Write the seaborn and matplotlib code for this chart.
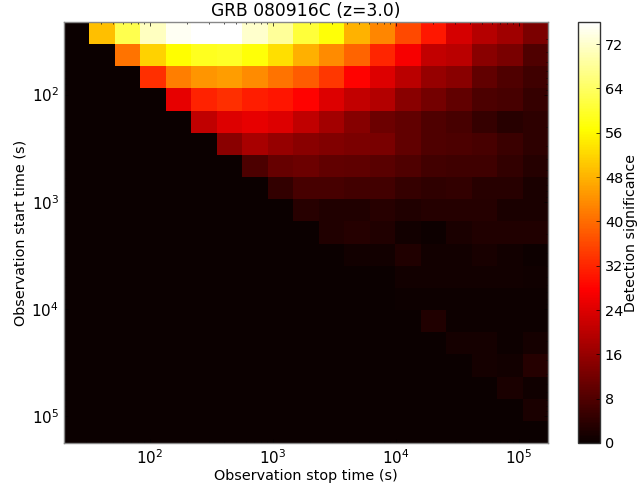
import numpy as np
import matplotlib
matplotlib.use('Agg')
import matplotlib.pyplot as plt
import seaborn as sns

# Detection significance, one list per start time bin (top to bottom)
row_00 = [0, 49.5, 62.5, 71, 75, 76, 76, 72, 68, 61, 57, 48, 43, 36, 30.5, 23, 19.5, 17, 13]
row_01 = [0, 0, 40.7, 51.5, 56.7, 59, 59.5, 57, 53, 47.5, 43.5, 39, 32, 27, 21, 20, 14.5, 12.5, 8]
row_02 = [0, 0, 0, 33, 42, 44.7, 45.5, 43.5, 40.7, 38, 34, 28, 24, 20, 16, 14.5, 10, 8, 6]
row_03 = [0, 0, 0, 0, 25, 31.5, 33, 31, 30, 28, 24, 21, 19, 14.5, 12, 10, 7.5, 7, 5]
row_04 = [0, 0, 0, 0, 0, 20.5, 24, 25, 24, 20.5, 17.5, 14, 11, 10, 8, 7, 5, 3.5, 4]
row_05 = [0, 0, 0, 0, 0, 0, 14.5, 18, 16, 14.5, 13.5, 13, 12.5, 10, 8, 7.5, 7, 5.5, 4]
row_06 = [0, 0, 0, 0, 0, 0, 0, 7.5, 10.5, 11, 10, 9.5, 9, 8, 6.5, 6, 6, 4.5, 3]
row_07 = [0, 0, 0, 0, 0, 0, 0, 0, 4.5, 7, 7, 6.5, 6.5, 5, 4.3, 4.5, 3.5, 3.5, 2]
row_08 = [0, 0, 0, 0, 0, 0, 0, 0, 0, 3.5, 2.5, 2.5, 3.5, 2.5, 3, 3, 3, 2, 2]
row_09 = [0, 0, 0, 0, 0, 0, 0, 0, 0, 0, 2.5, 3, 2.5, 1, 0.3, 2, 2.5, 2.5, 2.5]
row_10 = [0, 0, 0, 0, 0, 0, 0, 0, 0, 0, 0, 1, 1, 2.5, 1, 1, 1.5, 1, 0.4]
row_11 = [0, 0, 0, 0, 0, 0, 0, 0, 0, 0, 0, 0, 0, 1, 1, 1, 1, 1, 0.8]
row_12 = [0, 0, 0, 0, 0, 0, 0, 0, 0, 0, 0, 0, 0, 0.3, 0.3, 0.3, 0.3, 0.3, 0.3]
row_13 = [0, 0, 0, 0, 0, 0, 0, 0, 0, 0, 0, 0, 0, 0, 2.5, 0.4, 0.4, 0.4, 0.4]
row_14 = [0, 0, 0, 0, 0, 0, 0, 0, 0, 0, 0, 0, 0, 0, 0, 1.2, 1.2, 0.3, 1.2]
row_15 = [0, 0, 0, 0, 0, 0, 0, 0, 0, 0, 0, 0, 0, 0, 0, 0, 1.2, 1, 3]
row_16 = [0, 0, 0, 0, 0, 0, 0, 0, 0, 0, 0, 0, 0, 0, 0, 0, 0, 2, 0.6]
row_17 = [0, 0, 0, 0, 0, 0, 0, 0, 0, 0, 0, 0, 0, 0, 0, 0, 0, 0, 2]
row_18 = [0] * 19

# axis ranges in seconds
stop_range = [20, 172000]
start_range = [21, 178000]
decades = [2, 3, 4, 5]
tick_labels = ['$10^{2}$', '$10^{3}$', '$10^{4}$', '$10^{5}$']
cbar_ticks = [0, 8, 16, 24, 32, 40, 48, 56, 64, 72]

grid = np.array([row_00, row_01, row_02, row_03, row_04, row_05, row_06,
                 row_07, row_08, row_09, row_10, row_11, row_12, row_13,
                 row_14, row_15, row_16, row_17, row_18])


def to_cell(t, rng, n=19):
    # seconds -> heatmap cell coordinate, bins are log spaced
    lo, hi = np.log10(rng[0]), np.log10(rng[1])
    return (np.log10(t) - lo) / (hi - lo) * n


def minor_ticks(rng):
    vals = []
    for d in range(1, 6):
        for m in range(2, 10):
            t = m * 10.0 ** d
            if rng[0] <= t <= rng[1]:
                vals.append(t)
    return np.array(vals)


W, H = 638, 492
fig = plt.figure(figsize=(W / 100, H / 100), dpi=100)
ax = fig.add_axes([64 / W, 1 - 443 / H, 484 / W, 421 / H])
cax = fig.add_axes([578 / W, 1 - 443 / H, 22 / W, 421 / H])

sns.heatmap(grid, ax=ax, cbar_ax=cax, cmap='hot', vmin=0, vmax=76,
            xticklabels=False, yticklabels=False)

major = 10.0 ** np.array(decades)
ax.set_xticks(to_cell(major, stop_range))
ax.set_xticklabels(tick_labels, fontsize=11)
ax.set_yticks(to_cell(major, start_range))
ax.set_yticklabels(tick_labels, fontsize=11, rotation=0)
ax.set_xticks(to_cell(minor_ticks(stop_range), stop_range), minor=True)
ax.set_yticks(to_cell(minor_ticks(start_range), start_range), minor=True)

ax.tick_params(which='major', direction='in', length=3, width=0.5,
               top=True, right=True, color='black', pad=3.5)
ax.tick_params(which='minor', direction='in', length=1.5, width=0.5,
               top=True, right=True, color='black')
for s in ax.spines.values():
    s.set_visible(True)
    s.set_linewidth(1)
    s.set_color('#888888')

ax.set_title('GRB 080916C (z=3.0)', fontsize=12.3, pad=4)
ax.set_xlabel('Observation stop time (s)', fontsize=10.4, labelpad=2)
ax.set_ylabel('Observation start time (s)', fontsize=10.4, labelpad=3)

cb = ax.collections[0].colorbar
cb.set_ticks(cbar_ticks)
cb.outline.set_visible(True)
cb.outline.set_linewidth(1)
cb.outline.set_edgecolor('#333333')
cax.tick_params(direction='in', length=3, width=0.5, labelsize=10.4, pad=3.5)
fig.text(637.5 / W, 1 - 233 / H, 'Detection significance', rotation=90,
         fontsize=10.2, ha='right', va='center')

fig.savefig('out.png', dpi=100)
